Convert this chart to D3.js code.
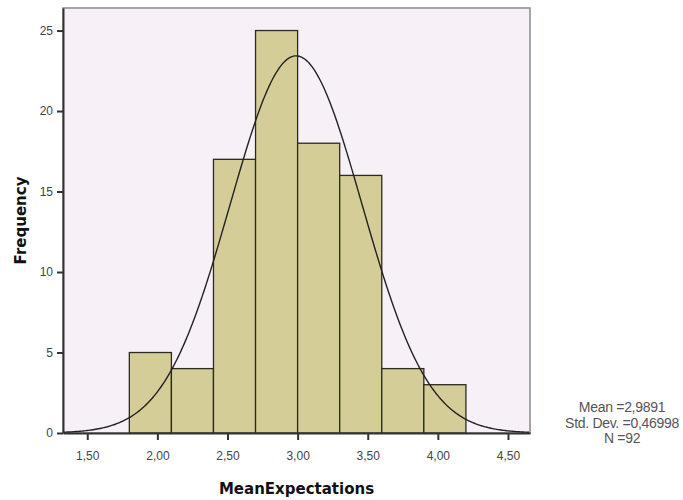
<!DOCTYPE html>
<html>
<head>
<meta charset="utf-8">
<script src="https://cdn.jsdelivr.net/npm/d3@7"></script>
<style>
  body { margin: 0; background: #fff; }
  svg { display: block; font-family: "Liberation Sans", Arial, sans-serif; }
</style>
</head>
<body>
<div class="chart"></div>
<script>
// histogram bins (lower edge, upper edge) and counts
const binStarts = [1.8, 2.1, 2.4, 2.7, 3.0, 3.3, 3.6, 3.9];
const binWidth = 0.3;
const counts = [5, 4, 17, 25, 18, 16, 4, 3];
const xTicks = [1.5, 2.0, 2.5, 3.0, 3.5, 4.0, 4.5];
const yTicks = [0, 5, 10, 15, 20, 25];
const statsLines = ['Mean =2,9891', 'Std. Dev. =0,46998', 'N =92'];
const mean = 2.9891;
const sd = 0.46998;
const n = 92;

const width = 683;
const height = 500;
let margin = { top: 8, right: 153, bottom: 67, left: 63 };
let plotW = width - margin.left - margin.right;
let plotH = height - margin.top - margin.bottom;

let svg = d3.select('.chart')
  .append('svg')
  .attr('width', width)
  .attr('height', height);

let x = d3.scaleLinear().domain([1.327, 4.657]).range([0, plotW]);
let y = d3.scaleLinear().domain([0, 26.4]).range([plotH, 0]);

let g = svg.append('g')
  .attr('transform', `translate(${margin.left}, ${margin.top})`);

// plot background
g.append('rect')
  .attr('width', plotW)
  .attr('height', plotH)
  .style('fill', '#f8f0f7')
  .style('stroke', '#8a8a8a')
  .style('stroke-width', 1.5);

// bars
g.selectAll('.bar')
  .data(counts)
  .enter()
  .append('rect')
  .attr('class', 'bar')
  .attr('x', (d, i) => x(binStarts[i]))
  .attr('y', d => y(d))
  .attr('width', (d, i) => x(binStarts[i] + binWidth) - x(binStarts[i]))
  .attr('height', d => y(0) - y(d))
  .style('fill', '#d4cd98')
  .style('stroke', '#2a2a1e')
  .style('stroke-width', 1.3);

// normal curve scaled to counts
let curve = d3.range(1.33, 4.655, 0.01).map(v => {
  let z = (v - mean) / sd;
  return { v: v, f: n * binWidth * Math.exp(-0.5 * z * z) / (sd * Math.sqrt(2 * Math.PI)) };
});
g.append('path')
  .datum(curve)
  .attr('d', d3.line().x(d => x(d.v)).y(d => y(d.f)))
  .style('fill', 'none')
  .style('stroke', '#222')
  .style('stroke-width', 1.4);

// axes
let xAxis = g.append('g')
  .attr('transform', `translate(0, ${plotH})`)
  .call(d3.axisBottom(x).tickValues(xTicks).tickSizeInner(7).tickSizeOuter(0).tickPadding(11)
    .tickFormat(d => d3.format('.2f')(d).replace('.', ',')));
let yAxis = g.append('g')
  .call(d3.axisLeft(y).tickValues(yTicks).tickSizeInner(6).tickSizeOuter(0).tickPadding(4));

[xAxis, yAxis].forEach(a => {
  a.select('.domain').style('stroke', '#333').style('stroke-width', 2);
  a.selectAll('.tick line').style('stroke', '#333').style('stroke-width', 2);
  a.selectAll('.tick text')
    .style('font-family', '"Liberation Sans", Arial, sans-serif')
    .style('font-size', '12px')
    .style('fill', '#444');
});

// axis titles
svg.append('text')
  .attr('x', margin.left + plotW / 2)
  .attr('y', 494)
  .style('text-anchor', 'middle')
  .style('font-size', '15px')
  .style('font-weight', 'bold')
  .style('font-family', '"DejaVu Sans", sans-serif')
  .style('fill', '#111')
  .text('MeanExpectations');

svg.append('text')
  .attr('transform', `translate(26, ${margin.top + plotH / 2}) rotate(-90)`)
  .style('text-anchor', 'middle')
  .style('font-size', '15px')
  .style('font-weight', 'bold')
  .style('font-family', '"DejaVu Sans", sans-serif')
  .style('fill', '#111')
  .text('Frequency');

// stats legend
svg.append('g')
  .selectAll('text')
  .data(statsLines)
  .enter()
  .append('text')
  .attr('x', 622)
  .attr('y', (d, i) => 412 + i * 15.5)
  .style('text-anchor', 'middle')
  .style('font-size', '14px')
  .style('letter-spacing', '-0.3px')
  .style('fill', '#555')
  .text(d => d);
</script>
</body>
</html>
